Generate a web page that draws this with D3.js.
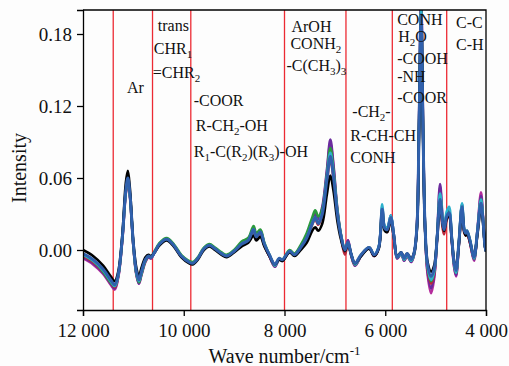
<!DOCTYPE html>
<html>
<head>
<meta charset="utf-8">
<script src="https://cdn.jsdelivr.net/npm/d3@7"></script>
<style>
  html, body { margin: 0; padding: 0; background: #fdfdfd; }
  svg { display: block; font-family: "Liberation Serif", "Times New Roman", serif; }
</style>
</head>
<body>
<div id="chart"></div>
<script>
// wave numbers (cm-1) shared by all spectra
const waveNumbers = [
  12000, 11800, 11600, 11450, 11370, 11300, 11220, 11150, 11110, 11070,
  11000, 10940, 10890, 10840, 10760, 10700, 10650, 10580, 10480, 10340,
  10200, 10050, 9900, 9820, 9720, 9600, 9490, 9380, 9250, 9150,
  9000, 8850, 8720, 8614, 8560, 8480, 8400, 8300, 8190, 8110,
  8040, 7900, 7800, 7680, 7560, 7450, 7390, 7330, 7250, 7160,
  7090, 7030, 6950, 6880, 6800, 6740, 6680, 6600, 6480, 6320,
  6220, 6130, 6060, 6010, 5960, 5890, 5830, 5763, 5684, 5624,
  5565, 5486, 5426, 5370, 5330, 5288, 5250, 5210, 5160, 5090,
  5030, 4970, 4912, 4860, 4832, 4780, 4733, 4680, 4634, 4595,
  4540, 4476, 4430, 4400, 4377, 4318, 4238, 4170, 4100, 4060,
  4020, 4000
];

const magentaSpec = [
  -0.007, -0.012, -0.020, -0.029, -0.033, -0.023, 0.008, 0.047, 0.056, 0.045,
  0.003, -0.021, -0.028, -0.021, -0.010, -0.006, -0.007, -0.002, 0.005, 0.009,
  0.004, -0.005, -0.010, -0.011, -0.007, 0.001, 0.004, 0.001, -0.003, -0.005,
  -0.001, 0.005, 0.008, 0.016, 0.011, 0.014, 0.004, -0.005, -0.014, -0.008,
  -0.009, -0.001, -0.004, 0.002, 0.011, 0.023, 0.028, 0.024, 0.034, 0.064,
  0.089, 0.070, 0.032, 0.012, -0.002, 0.008, -0.004, -0.013, -0.005, 0.002,
  -0.005, 0.002, 0.035, 0.018, 0.016, 0.027, 0.012, -0.007, -0.003, -0.009,
  -0.005, -0.010, -0.004, 0.022, 0.106, 0.212, 0.106, 0.020, -0.020, -0.036,
  -0.024, 0.011, 0.052, 0.024, 0.016, 0.028, 0.032, 0.008, -0.014, -0.022,
  0.004, 0.037, 0.015, 0.013, 0.014, 0.006, -0.009, 0.017, 0.048, 0.028,
  0.003, -0.001
];

const purpleSpec = [
  -0.006, -0.011, -0.019, -0.028, -0.032, -0.022, 0.009, 0.048, 0.057, 0.046,
  0.004, -0.020, -0.028, -0.020, -0.009, -0.006, -0.007, -0.002, 0.005, 0.009,
  0.004, -0.005, -0.010, -0.011, -0.007, 0.001, 0.004, 0.001, -0.003, -0.005,
  -0.001, 0.006, 0.009, 0.018, 0.012, 0.016, 0.005, -0.005, -0.014, -0.008,
  -0.009, -0.001, -0.004, 0.003, 0.012, 0.025, 0.030, 0.026, 0.036, 0.066,
  0.092, 0.072, 0.034, 0.013, -0.001, 0.008, -0.003, -0.013, -0.005, 0.002,
  -0.005, 0.002, 0.036, 0.019, 0.018, 0.029, 0.013, -0.007, -0.003, -0.009,
  -0.005, -0.010, -0.003, 0.022, 0.105, 0.210, 0.105, 0.020, -0.018, -0.032,
  -0.022, 0.012, 0.055, 0.026, 0.018, 0.030, 0.033, 0.010, -0.013, -0.021,
  0.005, 0.038, 0.016, 0.014, 0.015, 0.007, -0.008, 0.016, 0.045, 0.027,
  0.003, -0.001
];

const redSpec = [
  -0.005, -0.010, -0.018, -0.027, -0.031, -0.021, 0.009, 0.049, 0.058, 0.047,
  0.004, -0.019, -0.026, -0.019, -0.009, -0.005, -0.006, -0.002, 0.005, 0.009,
  0.004, -0.005, -0.010, -0.011, -0.007, 0.001, 0.004, 0.001, -0.003, -0.005,
  -0.001, 0.005, 0.008, 0.016, 0.010, 0.014, 0.004, -0.005, -0.013, -0.008,
  -0.009, -0.001, -0.004, 0.002, 0.010, 0.021, 0.026, 0.021, 0.029, 0.056,
  0.076, 0.060, 0.029, 0.011, -0.004, 0.005, -0.004, -0.012, -0.005, 0.002,
  -0.005, 0.002, 0.033, 0.017, 0.015, 0.025, 0.011, -0.006, -0.003, -0.008,
  -0.004, -0.009, -0.003, 0.020, 0.100, 0.198, 0.100, 0.019, -0.016, -0.028,
  -0.020, 0.009, 0.035, 0.018, 0.013, 0.025, 0.029, 0.009, -0.011, -0.019,
  0.004, 0.034, 0.014, 0.012, 0.014, 0.006, -0.007, 0.014, 0.040, 0.025,
  0.003, -0.001
];

const greenSpec = [
  -0.004, -0.009, -0.018, -0.027, -0.030, -0.021, 0.010, 0.049, 0.058, 0.047,
  0.004, -0.020, -0.027, -0.020, -0.009, -0.005, -0.006, -0.001, 0.006, 0.010,
  0.005, -0.004, -0.009, -0.010, -0.006, 0.002, 0.005, 0.002, -0.002, -0.004,
  0.000, 0.007, 0.010, 0.020, 0.014, 0.017, 0.006, -0.004, -0.013, -0.007,
  -0.008, 0.000, -0.003, 0.004, 0.014, 0.027, 0.033, 0.028, 0.034, 0.062,
  0.085, 0.067, 0.033, 0.013, 0.001, 0.006, -0.003, -0.012, -0.004, 0.002,
  -0.004, 0.002, 0.034, 0.018, 0.017, 0.027, 0.012, -0.006, -0.003, -0.008,
  -0.004, -0.009, -0.003, 0.020, 0.102, 0.200, 0.102, 0.020, -0.014, -0.026,
  -0.018, 0.011, 0.046, 0.023, 0.017, 0.029, 0.032, 0.010, -0.011, -0.019,
  0.005, 0.037, 0.016, 0.014, 0.016, 0.008, -0.007, 0.015, 0.042, 0.026,
  0.003, -0.001
];

const cyanSpec = [
  -0.004, -0.009, -0.017, -0.026, -0.030, -0.021, 0.010, 0.050, 0.059, 0.047,
  0.005, -0.019, -0.026, -0.019, -0.008, -0.005, -0.006, -0.002, 0.005, 0.009,
  0.004, -0.005, -0.010, -0.011, -0.007, 0.001, 0.004, 0.001, -0.003, -0.005,
  -0.001, 0.005, 0.008, 0.017, 0.011, 0.015, 0.005, -0.004, -0.013, -0.008,
  -0.009, -0.001, -0.004, 0.002, 0.010, 0.022, 0.027, 0.023, 0.031, 0.060,
  0.081, 0.064, 0.031, 0.012, 0.000, 0.006, -0.003, -0.012, -0.005, 0.002,
  -0.004, 0.003, 0.038, 0.020, 0.019, 0.029, 0.013, -0.006, -0.003, -0.008,
  -0.004, -0.009, -0.003, 0.020, 0.102, 0.200, 0.102, 0.020, -0.014, -0.025,
  -0.018, 0.012, 0.047, 0.025, 0.019, 0.032, 0.036, 0.011, -0.011, -0.019,
  0.006, 0.039, 0.017, 0.014, 0.016, 0.008, -0.007, 0.016, 0.042, 0.026,
  0.003, -0.001
];

const blackSpec = [
  0.000, -0.005, -0.013, -0.022, -0.026, -0.018, 0.012, 0.056, 0.066, 0.052,
  0.006, -0.015, -0.022, -0.015, -0.006, -0.004, -0.005, -0.002, 0.004, 0.008,
  0.003, -0.006, -0.011, -0.012, -0.008, 0.000, 0.003, 0.000, -0.004, -0.006,
  -0.002, 0.003, 0.006, 0.012, 0.008, 0.011, 0.003, -0.005, -0.012, -0.008,
  -0.009, -0.002, -0.005, 0.000, 0.006, 0.016, 0.019, 0.016, 0.022, 0.046,
  0.062, 0.050, 0.024, 0.009, -0.001, 0.005, -0.003, -0.011, -0.005, 0.001,
  -0.005, 0.001, 0.031, 0.016, 0.015, 0.025, 0.011, -0.005, -0.002, -0.006,
  -0.003, -0.007, -0.002, 0.018, 0.096, 0.190, 0.096, 0.018, -0.010, -0.018,
  -0.013, 0.010, 0.040, 0.021, 0.016, 0.026, 0.029, 0.009, -0.009, -0.015,
  0.004, 0.033, 0.015, 0.012, 0.015, 0.007, -0.005, 0.013, 0.036, 0.023,
  0.003, -0.001
];

const blueSpec = [
  -0.003, -0.008, -0.016, -0.025, -0.029, -0.020, 0.010, 0.050, 0.060, 0.048,
  0.005, -0.018, -0.025, -0.018, -0.008, -0.005, -0.006, -0.002, 0.005, 0.009,
  0.004, -0.005, -0.010, -0.011, -0.007, 0.001, 0.004, 0.001, -0.003, -0.005,
  -0.001, 0.005, 0.008, 0.017, 0.011, 0.015, 0.005, -0.004, -0.012, -0.007,
  -0.008, -0.001, -0.004, 0.002, 0.010, 0.022, 0.027, 0.022, 0.030, 0.058,
  0.078, 0.062, 0.030, 0.012, 0.000, 0.006, -0.003, -0.011, -0.004, 0.002,
  -0.004, 0.002, 0.034, 0.018, 0.017, 0.027, 0.012, -0.006, -0.002, -0.007,
  -0.003, -0.008, -0.002, 0.020, 0.100, 0.196, 0.100, 0.020, -0.012, -0.022,
  -0.016, 0.010, 0.042, 0.022, 0.017, 0.028, 0.031, 0.010, -0.010, -0.017,
  0.005, 0.036, 0.016, 0.014, 0.016, 0.008, -0.006, 0.015, 0.039, 0.025,
  0.003, -0.001
];

// draw order: first is at the bottom
const spectra = [
  { name: "magenta", color: "#b52c9c", values: magentaSpec },
  { name: "purple", color: "#6b2c9e", values: purpleSpec },
  { name: "red", color: "#b8283c", values: redSpec },
  { name: "green", color: "#2a9a3c", values: greenSpec },
  { name: "cyan", color: "#2cb2cc", values: cyanSpec },
  { name: "black", color: "#000000", values: blackSpec },
  { name: "blue", color: "#3060ac", values: blueSpec },
];

// band boundaries (red vertical lines)
const bandLines = [11400, 10620, 9860, 8000, 6780, 5860, 4780];

const xTicks = [12000, 10000, 8000, 6000, 4000];
const yTicks = [0.0, 0.06, 0.12, 0.18];

// band assignment labels, "_x" = subscript x ; anchored at wave number / intensity
const bandLabels = [
  { text: "Ar", w: 11129, v: 0.131 },
  { text: "trans", w: 10515, v: 0.1825 },
  { text: "CHR_1", w: 10594, v: 0.1633 },
  { text: "=CHR_2", w: 10614, v: 0.1433 },
  { text: "-COOR", w: 9802, v: 0.12 },
  { text: "R-CH_2-OH", w: 9762, v: 0.0992 },
  { text: "R_1-C(R_2)(R_3)-OH", w: 9802, v: 0.0775 },
  { text: "ArOH", w: 7862, v: 0.1817 },
  { text: "CONH_2", w: 7882, v: 0.1675 },
  { text: "-C(CH_3)_3", w: 7961, v: 0.1492 },
  { text: "-CH_2-", w: 6654, v: 0.1108 },
  { text: "R-CH-CH", w: 6694, v: 0.0908 },
  { text: "CONH", w: 6694, v: 0.0725 },
  { text: "CONH", w: 5763, v: 0.1875 },
  { text: "H_2O", w: 5743, v: 0.1733 },
  { text: "-COOH", w: 5763, v: 0.155 },
  { text: "-NH", w: 5763, v: 0.14 },
  { text: "-COOR", w: 5763, v: 0.1225 },
  { text: "C-C", w: 4595, v: 0.185 },
  { text: "C-H", w: 4595, v: 0.1667 },
];

const W = 509, H = 366;
const margin = { top: 10, right: 23, bottom: 56, left: 83 };

const svg = d3.select("#chart")
  .append("svg")
  .attr("width", W)
  .attr("height", H);

const x = d3.scaleLinear().domain([12000, 4000]).range([margin.left, W - margin.right]);
const y = d3.scaleLinear().domain([-0.05, 0.2]).range([H - margin.bottom, margin.top]);

svg.append("defs")
  .append("clipPath")
  .attr("id", "clip")
  .append("rect")
  .attr("x", margin.left)
  .attr("y", margin.top)
  .attr("width", x.range()[1] - x.range()[0])
  .attr("height", y.range()[0] - y.range()[1]);

const area = svg.append("g").attr("clip-path", "url(#clip)");

// red band lines
area.selectAll(".band")
  .data(bandLines)
  .enter()
  .append("line")
  .attr("class", "band")
  .attr("x1", (d) => x(d))
  .attr("x2", (d) => x(d))
  .attr("y1", y.range()[1])
  .attr("y2", y.range()[0])
  .style("stroke", "#ec2a33")
  .style("stroke-width", 1.3);

const line = d3.line()
  .x((d) => x(d[0]))
  .y((d) => y(d[1]))
  .curve(d3.curveCatmullRom.alpha(0.5));

area.selectAll(".spec")
  .data(spectra)
  .enter()
  .append("path")
  .attr("class", "spec")
  .attr("d", (d) => line(d.values.map((v, i) => [waveNumbers[i], v])))
  .style("fill", "none")
  .style("stroke", (d) => d.color)
  .style("stroke-width", (d) => (d.name === "blue" ? 3 : 2.6))
  .style("stroke-linejoin", "round");

// labels with subscripts
const labelG = svg.append("g")
  .style("font-size", "16px")
  .style("fill", "#111");

bandLabels.forEach((lb) => {
  const t = labelG.append("text")
    .attr("x", x(lb.w))
    .attr("y", y(lb.v));
  const parts = lb.text.split(/(_.)/).filter((s) => s.length);
  let sub = false;
  parts.forEach((p) => {
    if (p[0] === "_") {
      t.append("tspan").attr("dy", 4).style("font-size", "11px").text(p[1]);
      sub = true;
    } else {
      t.append("tspan").attr("dy", sub ? -4 : 0).text(p);
      sub = false;
    }
  });
});

// frame (top + right)
svg.append("path")
  .attr("d", `M${x.range()[0]},${y.range()[1]}H${x.range()[1]}V${y.range()[0]}`)
  .style("fill", "none")
  .style("stroke", "#000")
  .style("stroke-width", 1.3);

// axes
const xAxis = svg.append("g")
  .attr("transform", `translate(0,${y.range()[0]})`)
  .call(d3.axisBottom(x)
    .tickValues(xTicks)
    .tickSizeOuter(0)
    .tickSize(6)
    .tickPadding(8)
    .tickFormat((d) => d3.format(",")(d).replace(",", " ")));

const yAxis = svg.append("g")
  .attr("transform", `translate(${x.range()[0]},0)`)
  .call(d3.axisLeft(y)
    .tickValues(yTicks)
    .tickSizeOuter(0)
    .tickSize(6)
    .tickPadding(5)
    .tickFormat(d3.format(".2f")));

[xAxis, yAxis].forEach((g) => {
  g.selectAll("text")
    .style("font-family", "Liberation Serif, serif")
    .style("font-size", "19px")
    .style("fill", "#111");
  g.selectAll("line").style("stroke", "#000").style("stroke-width", 1.3);
  g.select(".domain").style("stroke", "#000").style("stroke-width", 1.3);
});

// axis titles
const xTitle = svg.append("text")
  .attr("x", (x.range()[0] + x.range()[1]) / 2)
  .attr("y", 363)
  .attr("text-anchor", "middle")
  .style("font-size", "20px")
  .style("fill", "#111");
xTitle.append("tspan").text("Wave number/cm");
xTitle.append("tspan").attr("dy", -8).style("font-size", "13px").text("-1");

svg.append("text")
  .attr("transform", "translate(26,168) rotate(-90)")
  .attr("text-anchor", "middle")
  .style("font-size", "20px")
  .style("fill", "#111")
  .text("Intensity");
</script>
</body>
</html>
